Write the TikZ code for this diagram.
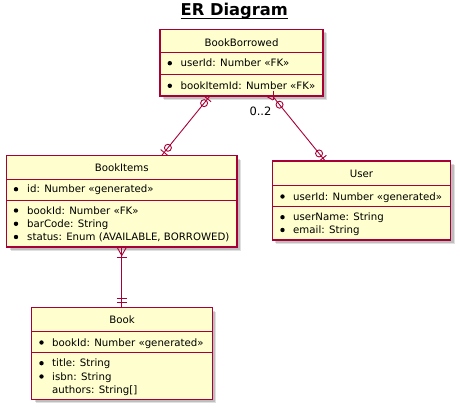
\documentclass[tikz,border=0pt]{standalone}
\usepackage{fontspec}
\setmainfont{DejaVu Sans}
\usetikzlibrary{calc,shadows}
\definecolor{ebd}{HTML}{A80036}
\definecolor{efill}{HTML}{FEFECE}
\begin{document}
\begin{tikzpicture}[x=1pt,y=-1pt,
  entity/.style={draw=ebd, fill=efill, line width=1.1pt, rectangle, inner sep=0pt,
    drop shadow={shadow xshift=4pt, shadow yshift=-4pt, fill=black, opacity=0.12},
    drop shadow={shadow xshift=3pt, shadow yshift=-3pt, fill=black, opacity=0.15}},
  hdr/.style={anchor=base, inner sep=0pt, font=\fontsize{10.2}{12}\selectfont},
  attr/.style={anchor=base west, inner sep=0pt, font=\fontsize{10.2}{12}\selectfont},
  sep/.style={draw=ebd, line width=1pt},
  conn/.style={draw=ebd, line width=0.9pt},
  bul/.style={fill=black}
]
\useasboundingbox (0,0) rectangle (460,409);
\fill[white] (0,0) rectangle (460,409);

% title
\node[anchor=base, inner sep=0pt, font=\fontsize{16.3}{19}\selectfont\bfseries] (title) at (234.3,16) {ER Diagram};
\draw[line width=1.5pt] ([yshift=-2.4pt]title.base west) -- ([yshift=-2.4pt]title.base east);

% BookBorrowed
\node[entity, minimum width=163pt, minimum height=66.5pt] (bb) at (241.5,62.75) {};
\node[hdr] (bbh) at (241.5,46.5) {BookBorrowed};
\draw[sep] (160,52.7) -- (323,52.7);
\fill[bul] (169.8,63.2) circle (2.2pt);
\node[attr] (bb1) at (180.5,66.7) {userId: Number «FK»};
\draw[sep] (160,75) -- (323,75);
\fill[bul] (169.8,85.8) circle (2.2pt);
\node[attr] (bb2) at (180.5,89.3) {bookItemId: Number «FK»};

% BookItems
\node[entity, minimum width=230.5pt, minimum height=91.3pt] (bi) at (121.75,201.35) {};
\node[hdr] (bih) at (121.75,171.7) {BookItems};
\draw[sep] (6.5,179.3) -- (237,179.3);
\fill[bul] (16,189.2) circle (2.2pt);
\node[attr] (bi1) at (27,192.7) {id: Number «generated»};
\draw[sep] (6.5,200) -- (237,200);
\fill[bul] (16,210.5) circle (2.2pt);
\node[attr] (bi2) at (27,214) {bookId: Number «FK»};
\fill[bul] (16,223.8) circle (2.2pt);
\node[attr] (bi3) at (27,227.3) {barCode: String};
\fill[bul] (16,237) circle (2.2pt);
\node[attr] (bi4) at (27,240.5) {status: Enum (AVAILABLE, BORROWED)};

% User
\node[entity, minimum width=178.4pt, minimum height=79pt] (us) at (361.5,200.5) {};
\node[hdr] (ush) at (361.5,177.3) {User};
\draw[sep] (272.3,185.5) -- (450.7,185.5);
\fill[bul] (282.5,196.5) circle (2.2pt);
\node[attr] (us1) at (293,200) {userId: Number «generated»};
\draw[sep] (272.3,206.7) -- (450.7,206.7);
\fill[bul] (282.5,217.2) circle (2.2pt);
\node[attr] (us2) at (293,220.7) {userName: String};
\fill[bul] (282.5,230) circle (2.2pt);
\node[attr] (us3) at (293,233.5) {email: String};

% Book
\node[entity, minimum width=180.6pt, minimum height=91.6pt] (bk) at (122,353.5) {};
\node[hdr] (bkh) at (122,323.3) {Book};
\draw[sep] (31.7,331) -- (212.3,331);
\fill[bul] (41.5,342.5) circle (2.2pt);
\node[attr] (bk1) at (52,346) {bookId: Number «generated»};
\draw[sep] (31.7,352.7) -- (212.3,352.7);
\fill[bul] (41.5,363.2) circle (2.2pt);
\node[attr] (bk2) at (52,366.7) {title: String};
\fill[bul] (41.5,376.5) circle (2.2pt);
\node[attr] (bk3) at (52,380) {isbn: String};
\node[attr] (bk4) at (52,393) {authors: String[]};

% connector BookBorrowed -- BookItems (zero or one / zero or one)
\coordinate (c1a) at ([xshift=50pt]bb.south west);
\coordinate (c1b) at ([xshift=156pt]bi.north west);
\draw[conn] (c1a) -- (c1b);
\draw[conn] ($(c1a)!3pt!(c1b)!4.5pt!90:(c1b)$) -- ($(c1a)!3pt!(c1b)!4.5pt!-90:(c1b)$);
\draw[conn] ($(c1a)!8.5pt!(c1b)$) circle (3.5pt);
\draw[conn] ($(c1b)!3.5pt!(c1a)!4.5pt!90:(c1a)$) -- ($(c1b)!3.5pt!(c1a)!4.5pt!-90:(c1a)$);
\draw[conn] ($(c1b)!9.5pt!(c1a)$) circle (3.5pt);

% connector BookBorrowed -- User (zero or many / zero or one)
\coordinate (c2a) at ([xshift=113.5pt]bb.south west);
\coordinate (c2b) at ([xshift=53pt]us.north west);
\draw[conn] (c2a) -- (c2b);
\draw[conn] ([yshift=6pt]c2a) -- ([yshift=-3.5pt]c2a);
\draw[conn] ([xshift=-6pt]c2a) -- ([yshift=-3.5pt]c2a);
\draw[conn] ($(c2a)!10.5pt!(c2b)$) circle (3.5pt);
\draw[conn] ($(c2b)!3pt!(c2a)!4.5pt!90:(c2a)$) -- ($(c2b)!3pt!(c2a)!4.5pt!-90:(c2a)$);
\draw[conn] ($(c2b)!9pt!(c2a)$) circle (3.5pt);
\node[anchor=base west, inner sep=0pt, font=\fontsize{11.5}{13}\selectfont] (lbl) at (249.3,116) {0..2};

% connector BookItems -- Book (one or many / exactly one)
\coordinate (c3a) at (bi.south);
\coordinate (c3b) at (bi.south |- bk.north);
\draw[conn] (c3a) -- (c3b);
\draw[conn] ([xshift=-4.5pt]c3a) -- ([yshift=-8pt]c3a) -- ([xshift=4.5pt]c3a);
\draw[conn] ([xshift=-5pt,yshift=-10pt]c3a) -- ([xshift=5pt,yshift=-10pt]c3a);
\draw[conn] ([xshift=-5pt,yshift=5.2pt]c3b) -- ([xshift=5pt,yshift=5.2pt]c3b);
\draw[conn] ([xshift=-5pt,yshift=8.7pt]c3b) -- ([xshift=5pt,yshift=8.7pt]c3b);
\end{tikzpicture}
\end{document}
